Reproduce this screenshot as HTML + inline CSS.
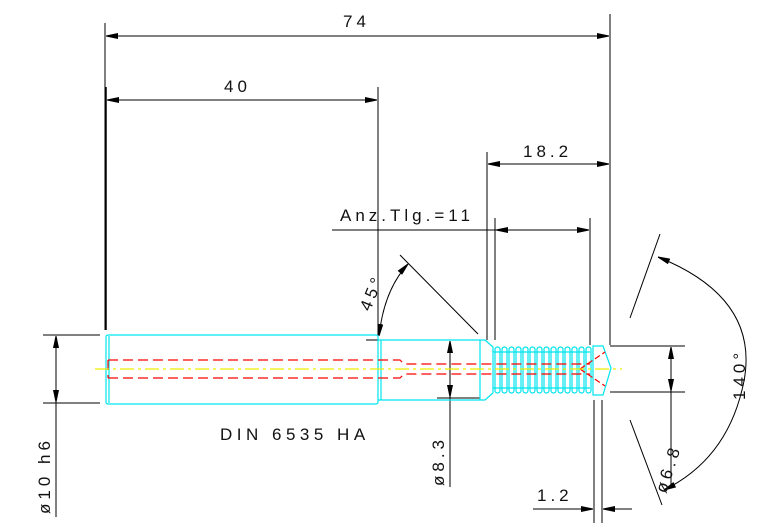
<!DOCTYPE html>
<html><head><style>
html,body{margin:0;padding:0;background:#fff;}
svg{display:block;}
text{font-family:"Liberation Sans",sans-serif;fill:#111;font-size:17px;letter-spacing:4px;}
</style></head><body>
<svg width="767" height="523" viewBox="0 0 767 523" xmlns="http://www.w3.org/2000/svg">
<defs>
<marker id="a" viewBox="0 0 12 6" refX="12" refY="3" markerWidth="12" markerHeight="6" orient="auto-start-reverse" markerUnits="userSpaceOnUse">
<path d="M0,0 L12,2.5 L12,3.5 L0,6 Z" fill="#000"/></marker>
</defs>
<g stroke="#000" stroke-width="1" fill="none">
<line x1="105" y1="23" x2="105" y2="330"/>
<line x1="106" y1="87" x2="106" y2="330" stroke-width="1.5"/>
<line x1="610" y1="14" x2="610" y2="345"/>
<line x1="378" y1="87" x2="378" y2="335"/>
<line x1="487" y1="152" x2="487" y2="340"/>
<line x1="495" y1="218" x2="495" y2="340"/>
<line x1="590" y1="218" x2="590" y2="345"/>
<line x1="106" y1="36" x2="609" y2="36" marker-start="url(#a)" marker-end="url(#a)"/>
<line x1="107" y1="100" x2="377" y2="100" marker-start="url(#a)" marker-end="url(#a)"/>
<line x1="488" y1="164" x2="609" y2="164" marker-start="url(#a)" marker-end="url(#a)"/>
<line x1="332" y1="230" x2="496" y2="230"/>
<line x1="496" y1="230" x2="589" y2="230" marker-start="url(#a)" marker-end="url(#a)"/>
<line x1="43" y1="335" x2="100" y2="335"/>
<line x1="43" y1="403" x2="100" y2="403"/>
<line x1="56" y1="336" x2="56" y2="402" marker-start="url(#a)" marker-end="url(#a)"/>
<line x1="56" y1="402" x2="56" y2="517"/>
<line x1="437" y1="340" x2="480" y2="340"/>
<line x1="437" y1="398" x2="480" y2="398"/>
<line x1="450" y1="341" x2="450" y2="397" marker-start="url(#a)" marker-end="url(#a)"/>
<line x1="450" y1="397" x2="450" y2="487"/>
<line x1="366" y1="340" x2="437" y2="340"/>
<line x1="610" y1="346" x2="685" y2="346"/>
<line x1="610" y1="392" x2="685" y2="392"/>
<line x1="671" y1="347" x2="671" y2="391" marker-start="url(#a)" marker-end="url(#a)"/>
<line x1="671" y1="391" x2="671" y2="488"/>
<line x1="594" y1="400" x2="594" y2="523"/>
<line x1="602" y1="400" x2="602" y2="523"/>
<line x1="533" y1="509" x2="593" y2="509" marker-end="url(#a)"/>
<line x1="632" y1="509" x2="603" y2="509" marker-end="url(#a)"/>
<line x1="400" y1="255" x2="478" y2="334"/>
<path d="M379,336 Q384,290 408,264" marker-start="url(#a)" marker-end="url(#a)"/>
<line x1="660" y1="234" x2="630" y2="318"/>
<line x1="630" y1="420" x2="662" y2="505"/>
<path d="M658,257 Q765,300 742,390 Q725,460 664,490" marker-start="url(#a)" marker-end="url(#a)"/>
</g>
<g stroke="#00e5ee" stroke-width="1.2" fill="none">
<rect x="106" y="335" width="272" height="69" rx="2"/>
<line x1="109" y1="336" x2="109" y2="403"/>
<path d="M378,340 L485,340 L493,347 L493,393 L485,400 L378,400"/>
<line x1="381" y1="340" x2="381" y2="400"/>
<path d="M480,340 L480,400"/>
<path d="M493,352 L590,352 M493,388 L590,388"/>
<g>
<rect x="495" y="347" width="5" height="46" rx="2.5"/><rect x="502" y="347" width="5" height="46" rx="2.5"/><rect x="509" y="347" width="5" height="46" rx="2.5"/><rect x="516" y="347" width="5" height="46" rx="2.5"/><rect x="523" y="347" width="5" height="46" rx="2.5"/><rect x="530" y="347" width="5" height="46" rx="2.5"/><rect x="537" y="347" width="5" height="46" rx="2.5"/><rect x="544" y="347" width="5" height="46" rx="2.5"/><rect x="551" y="347" width="5" height="46" rx="2.5"/><rect x="558" y="347" width="5" height="46" rx="2.5"/><rect x="565" y="347" width="5" height="46" rx="2.5"/><rect x="572" y="347" width="5" height="46" rx="2.5"/><rect x="579" y="347" width="5" height="46" rx="2.5"/><rect x="586" y="347" width="5" height="46" rx="2.5"/>
</g>
<path d="M593,346 L603,346 L611,368 L603,395 L593,395 Z"/>
</g>
<g stroke="#ff0000" stroke-width="1.2" fill="none" stroke-dasharray="10,5">
<path d="M108,360 L400,360 L404,364 L590,364"/>
<path d="M108,378 L400,378 L404,374 L590,374"/>
<line x1="108" y1="360" x2="108" y2="378"/>
<path d="M580,369 L605,352 M580,369 L605,386" stroke-dasharray="6,3"/>
</g>
<line x1="95" y1="369" x2="622" y2="369" stroke="#eeee00" stroke-width="1.2" stroke-dasharray="14,4,3,4"/>
<text x="343" y="27">74</text>
<text x="224" y="92">40</text>
<text x="523" y="157">18.2</text>
<text x="340" y="221" style="letter-spacing:4px">Anz.Tlg.=11</text>
<text x="220" y="440" style="letter-spacing:4.5px">DIN 6535 HA</text>
<text x="537" y="501">1.2</text>
<text transform="translate(50,514) rotate(-90)">ø10 h6</text>
<text transform="translate(444,486) rotate(-90)">ø8.3</text>
<text transform="translate(666,494) rotate(-72)">ø6.8</text>
<text transform="translate(745,400) rotate(-90)">140°</text>
<text transform="translate(370,312) rotate(-68)">45°</text>
</svg>
</body></html>
